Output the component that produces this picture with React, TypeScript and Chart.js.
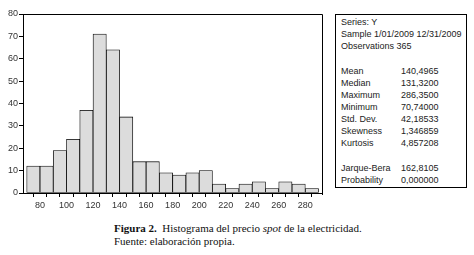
import React, { useEffect, useRef } from "react";
import { Chart, registerables } from "chart.js";

Chart.register(...registerables);

// ---- data ----
const binStarts = [70, 80, 90, 100, 110, 120, 130, 140, 150, 160, 170, 180, 190, 200, 210, 220, 230, 240, 250, 260, 270, 280];
const binWidth = 10;
const counts = [12, 12, 19, 24, 37, 71, 64, 34, 14, 14, 9, 8, 9, 10, 4, 2, 4, 5, 2, 5, 4, 2];
const xTickLabels = [80, 100, 120, 140, 160, 180, 200, 220, 240, 260, 280];
const yTickValues = [0, 10, 20, 30, 40, 50, 60, 70, 80];

const headerLines = ["Series: Y", "Sample 1/01/2009 12/31/2009", "Observations 365"];
const statNames = ["Mean", "Median", "Maximum", "Minimum", "Std. Dev.", "Skewness", "Kurtosis"];
const statValues = ["140,4965", "131,3200", "286,3500", "70,74000", "42,18533", "1,346859", "4,857208"];
const testNames = ["Jarque-Bera", "Probability"];
const testValues = ["162,8105", "0,000000"];

const captionBold = "Figura 2.";
const captionA = "Histograma del precio ";
const captionItalic = "spot";
const captionB = " de la electricidad.";
const captionLine2 = "Fuente: elaboración propia.";

const tickFont = { family: "'Liberation Sans', Arial, sans-serif", size: 9 };

const framePlugin = {
  id: "frame",
  afterDraw(chart: any) {
    const { ctx, chartArea: a } = chart;
    ctx.save();
    ctx.strokeStyle = "#000";
    ctx.lineWidth = 1;
    const t = Math.round(a.top) + 0.5;
    const r = Math.round(a.right) + 0.5;
    ctx.beginPath();
    ctx.moveTo(a.left, t);
    ctx.lineTo(r, t);
    ctx.lineTo(r, a.bottom + 2);
    ctx.stroke();
    ctx.restore();
  },
};

export default function App() {
  const canvasRef = useRef<HTMLCanvasElement | null>(null);

  useEffect(() => {
    document.body.style.margin = "0";
    const canvas = canvasRef.current;
    if (!canvas) return;
    const chart = new Chart(canvas, {
      type: "bar",
      data: {
        datasets: [
          {
            data: counts.map((c, i) => ({ x: binStarts[i] + binWidth / 2, y: c })),
            backgroundColor: "#dcdcdc",
            borderColor: "#000",
            borderWidth: 0.8,
            borderSkipped: false,
            barPercentage: 1,
            categoryPercentage: 1,
          },
        ],
      },
      options: {
        responsive: false,
        animation: false,
        events: [],
        layout: { padding: { top: 14, right: 8, left: 0, bottom: 0 } },
        plugins: { legend: { display: false }, tooltip: { enabled: false } },
        scales: {
          x: {
            type: "linear",
            min: 67.2,
            max: 292.6,
            offset: false,
            grid: { display: true, drawOnChartArea: false, drawTicks: true, tickLength: 4, color: "#000" },
            border: { display: true, color: "#000", width: 1 },
            ticks: {
              stepSize: 10,
              includeBounds: false,
              autoSkip: false,
              maxRotation: 0,
              padding: 3,
              color: "#333",
              font: tickFont,
              callback: (v: any) => (xTickLabels.includes(Number(v)) ? String(v) : ""),
            },
            afterFit: (s: any) => {
              s.height = 22;
            },
          },
          y: {
            min: yTickValues[0],
            max: yTickValues[yTickValues.length - 1],
            grid: { display: true, drawOnChartArea: false, drawTicks: true, tickLength: 4, color: "#000" },
            border: { display: true, color: "#000", width: 1 },
            ticks: {
              stepSize: 10,
              padding: 1,
              color: "#333",
              font: tickFont,
            },
            afterFit: (s: any) => {
              s.width = 23;
            },
          },
        },
      },
      plugins: [framePlugin],
    } as any);
    return () => chart.destroy();
  }, []);

  const statFont = "'Liberation Sans', Arial, sans-serif";

  const row = (name: string, value: string, key: string) => (
    <div key={key} style={{ display: "flex", height: 12, lineHeight: "12px" }}>
      <div style={{ width: 60 }}>{name}</div>
      <div>{value}</div>
    </div>
  );

  return (
    <div style={{ position: "absolute", left: 0, top: 0, width: 474, height: 255, background: "#fff", overflow: "hidden" }}>
      <canvas ref={canvasRef} width={330} height={215} style={{ position: "absolute", left: 0, top: 0, width: 330, height: 215 }} />
      <div
        style={{
          position: "absolute",
          left: 335,
          top: 14,
          width: 132,
          height: 174,
          boxSizing: "border-box",
          border: "1px solid #000",
          padding: "1px 0 0 5px",
          fontFamily: statFont,
          fontSize: 9,
          color: "#222",
          whiteSpace: "nowrap",
        }}
      >
        {headerLines.map((l, i) => (
          <div key={"h" + i} style={{ height: 12, lineHeight: "12px" }}>{l}</div>
        ))}
        <div style={{ height: 13 }} />
        {statNames.map((n, i) => row(n, statValues[i], "s" + i))}
        <div style={{ height: 13 }} />
        {testNames.map((n, i) => row(n, testValues[i], "t" + i))}
      </div>
      <div
        style={{
          position: "absolute",
          left: 114,
          top: 222,
          fontFamily: "'Liberation Serif', 'Times New Roman', serif",
          fontSize: 11,
          lineHeight: "12.5px",
          color: "#111",
          whiteSpace: "nowrap",
        }}
      >
        <div>
          <b>{captionBold}</b>&nbsp; {captionA}
          <i>{captionItalic}</i>
          {captionB}
        </div>
        <div>{captionLine2}</div>
      </div>
    </div>
  );
}
